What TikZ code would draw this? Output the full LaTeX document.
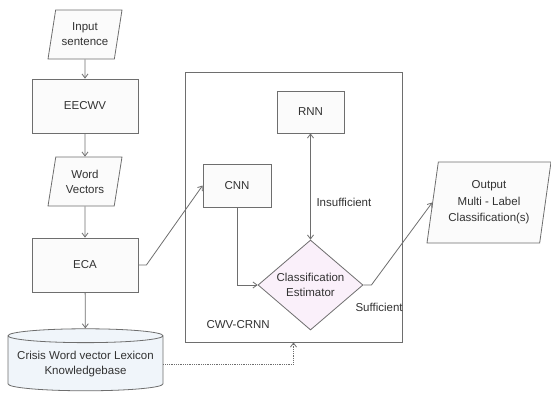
\documentclass[tikz,border=0pt]{standalone}
\usepackage{fontspec}
\setmainfont{Liberation Sans}
\usetikzlibrary{shapes.geometric,arrows.meta}
\definecolor{linegray}{RGB}{110,110,110}
\definecolor{textgray}{RGB}{50,50,50}
\definecolor{boxfill}{RGB}{251,251,251}
\definecolor{estfill}{RGB}{250,240,250}
\definecolor{kbfill}{RGB}{240,245,250}
\tikzset{>={Straight Barb[length=4pt,width=6pt]}}
\tikzset{box/.style={draw=linegray, fill=boxfill, thick, text=textgray, align=center, inner sep=1pt}}
\tikzset{io/.style={box, trapezium, trapezium stretches body, trapezium left angle=#1, trapezium right angle=180-#1}}
\tikzset{line/.style={draw=linegray, thick}}

\begin{document}
\begin{tikzpicture}[x=1pt, y=-1pt, font=\fontsize{11.5}{15}\selectfont]
	\useasboundingbox (0,0) rectangle (551,394);

	\node[box, minimum width=217pt, minimum height=270pt, fill=white] (cwv) at (293.5,207) {};
	\node[text=textgray, anchor=west] (cwvlabel) at (203,325) {CWV-CRNN};

	\node[io=73, minimum width=74pt, minimum height=49pt] (inp) at (85,34.5) {Input\\sentence};
	\node[box, minimum width=106pt, minimum height=54pt] (eecwv) at (85,106) {EECWV};
	\node[io=73, minimum width=74pt, minimum height=49pt] (wv) at (85,181.5) {Word\\Vectors};
	\node[box, minimum width=106pt, minimum height=54pt] (eca) at (85,265) {ECA};
	\node[box, cylinder, shape border rotate=90, aspect=0.1, fill=kbfill, minimum width=155pt, minimum height=62pt] (kb) at (85.5,364) {Crisis Word vector Lexicon\\Knowledgebase};

	\node[box, minimum width=67pt, minimum height=42pt] (rnn) at (310.5,112) {RNN};
	\node[box, minimum width=68pt, minimum height=43pt] (cnn) at (237,185.5) {CNN};
	\node[box, diamond, aspect=1.17, fill=estfill, minimum width=105pt, minimum height=90pt, inner sep=0pt] (est) at (310.5,285) {Classification\\Estimator};
	\node[io=76, minimum width=124pt, minimum height=81pt, font=\fontsize{11.5}{16.5}\selectfont] (out) at (489,202.5) {Output\\Multi - Label\\Classification(s)};

	\node[text=textgray, anchor=west] (insuf) at (313,202) {Insufficient};
	\node[text=textgray, anchor=west] (suf) at (352,307) {Sufficient};

	\draw[line, ->] (inp) -- (eecwv);
	\draw[line, ->] (eecwv) -- (wv);
	\draw[line, ->] (wv) -- (eca);
	\draw[line, ->] (eca) -- (kb);
	\draw[line, ->] (eca.east) -- ++(8,0) -- (cnn.west);
	\draw[line, ->] (cnn.south) |- (est.west);
	\draw[line, <->] (rnn.south) -- (est.north);
	\draw[line, ->] (est.east) -- ++(8,0) -- (out.west);
	\draw[line, densely dotted, ->] (kb.east) -| (cwv.south);
\end{tikzpicture}
\end{document}
